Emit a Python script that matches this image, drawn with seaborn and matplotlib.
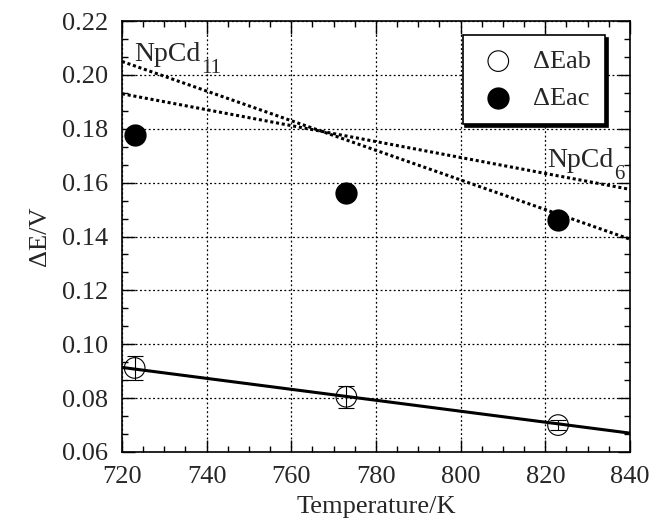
import seaborn as sns
import pandas as pd
import numpy as np
import matplotlib.pyplot as plt
from matplotlib.ticker import MultipleLocator, AutoMinorLocator

# data
temp = [723, 773, 823]
de_ab = [0.0912, 0.0805, 0.0700]
de_ab_err = [0.0045, 0.0040, 0.0020]
de_ac = [0.1778, 0.1560, 0.1460]
de_ac_err = [0.0020, 0.0015, 0.0015]

# fitted / calculated lines (end points)
fit_x = [720, 840]
fit_ab = [0.0914, 0.0670]
npcd11 = [0.2050, 0.1390]
npcd6 = [0.1930, 0.1575]

sns.set_theme(style="ticks")
plt.rcParams['font.family'] = ['Liberation Serif', 'DejaVu Serif']

fig, ax = plt.subplots(figsize=(6.64, 5.26), dpi=100)
fig.subplots_adjust(left=0.1837, right=0.9488, top=0.960, bottom=0.1407)

df_ab = pd.DataFrame({'T': temp, 'dE': de_ab})
df_ac = pd.DataFrame({'T': temp, 'dE': de_ac})

# lines
sns.lineplot(x=fit_x, y=fit_ab, ax=ax, color='black', lw=2.2)
sns.lineplot(x=fit_x, y=npcd11, ax=ax, color='black', lw=2.2, linestyle=(0, (1.0, 0.9)))
sns.lineplot(x=fit_x, y=npcd6, ax=ax, color='black', lw=2.2, linestyle=(0, (1.0, 0.9)))

# error bars
ax.errorbar(temp, de_ab, yerr=de_ab_err, fmt='none', ecolor='black', elinewidth=0.8, capsize=5.5, capthick=0.8)
ax.errorbar(temp, de_ac, yerr=de_ac_err, fmt='none', ecolor='black', elinewidth=0.8, capsize=5.5, capthick=0.8)

# points
sns.scatterplot(data=df_ab, x='T', y='dE', ax=ax, marker='o', s=220, facecolor='none',
                edgecolor='black', linewidth=0.8, label='ΔEab', zorder=5)
sns.scatterplot(data=df_ac, x='T', y='dE', ax=ax, marker='o', s=220, color='black',
                edgecolor='black', label='ΔEac', zorder=5)

# curve labels with dropped subscripts
t11 = ax.text(723, 0.2052, 'NpCd', fontsize=20, ha='left', va='baseline')
ax.annotate('11', xy=(1, 0), xycoords=t11, xytext=(0.5, -4.5), textcoords='offset points',
            fontsize=15, ha='left', va='baseline')
t6 = ax.text(820.5, 0.1658, 'NpCd', fontsize=20, ha='left', va='baseline')
ax.annotate('6', xy=(1, 0), xycoords=t6, xytext=(0.5, -4.5), textcoords='offset points',
            fontsize=15, ha='left', va='baseline')

ax.set_xlim(720, 840)
ax.set_ylim(0.06, 0.22)
ax.xaxis.set_major_locator(MultipleLocator(20))
ax.xaxis.set_minor_locator(MultipleLocator(5))
ax.yaxis.set_major_locator(MultipleLocator(0.02))
ax.yaxis.set_minor_locator(AutoMinorLocator(3))
ax.yaxis.set_major_formatter(plt.FormatStrFormatter('%.2f'))
ax.tick_params(which='both', direction='in', top=True, right=True, labelsize=19, color='black')
ax.tick_params(which='major', length=9, width=1, pad=10)
ax.tick_params(which='minor', length=4.5, width=1)
ax.grid(True, which='major', linestyle=(0, (1.5, 2)), color='black', lw=0.9)
for sp in ax.spines.values():
    sp.set_color('black')
    sp.set_linewidth(1.2)

ax.set_xlabel('Temperature/K', fontsize=19, labelpad=6)
ax.set_ylabel('ΔE/V', fontsize=19, labelpad=8)

leg = ax.legend(loc='upper right', bbox_to_anchor=(0.951, 0.9675), fontsize=19, frameon=True,
                fancybox=False, shadow={'color': 'black', 'alpha': 1}, edgecolor='black',
                handletextpad=0.5, handlelength=1.6, borderpad=0.55, labelspacing=0.5,
                borderaxespad=0, markerscale=1.0)
leg.get_frame().set_linewidth(1.2)
leg.get_frame().set_alpha(1)

plt.savefig('out.png', dpi=100)
